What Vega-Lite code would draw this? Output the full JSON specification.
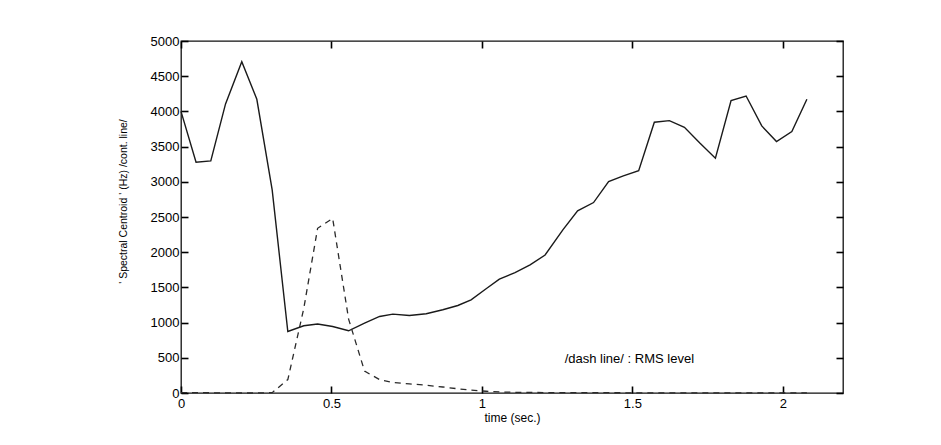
{
  "$schema": "https://vega.github.io/schema/vega-lite/v6.json",
  "autosize": "none",
  "width": 662,
  "height": 352,
  "padding": {"left": 181, "top": 41, "right": 98, "bottom": 52},
  "background": "white",
  "config": {
    "view": {"stroke": "#111", "strokeWidth": 1.3},
    "axis": {
      "labelFont": "Liberation Sans",
      "labelFontSize": 13,
      "labelColor": "#000",
      "domain": false,
      "grid": false,
      "titleFont": "Liberation Sans",
      "titleFontWeight": "normal",
      "titleColor": "#000"
    }
  },
  "datasets": {
    "centroid": [
      {"t": 0.0, "v": 4000},
      {"t": 0.05, "v": 3278},
      {"t": 0.099, "v": 3297},
      {"t": 0.148, "v": 4106},
      {"t": 0.202, "v": 4706},
      {"t": 0.252, "v": 4172},
      {"t": 0.303, "v": 2885},
      {"t": 0.355, "v": 874},
      {"t": 0.408, "v": 955},
      {"t": 0.454, "v": 979},
      {"t": 0.504, "v": 945},
      {"t": 0.557, "v": 884},
      {"t": 0.61, "v": 993},
      {"t": 0.66, "v": 1087},
      {"t": 0.704, "v": 1121},
      {"t": 0.759, "v": 1101},
      {"t": 0.815, "v": 1125},
      {"t": 0.87, "v": 1182},
      {"t": 0.92, "v": 1243},
      {"t": 0.964, "v": 1324},
      {"t": 1.014, "v": 1480},
      {"t": 1.058, "v": 1618},
      {"t": 1.11, "v": 1710},
      {"t": 1.16, "v": 1820},
      {"t": 1.21, "v": 1960},
      {"t": 1.269, "v": 2318},
      {"t": 1.318, "v": 2587},
      {"t": 1.371, "v": 2705},
      {"t": 1.421, "v": 3003},
      {"t": 1.47, "v": 3084},
      {"t": 1.521, "v": 3159},
      {"t": 1.573, "v": 3846},
      {"t": 1.623, "v": 3869},
      {"t": 1.673, "v": 3775},
      {"t": 1.725, "v": 3548},
      {"t": 1.776, "v": 3335},
      {"t": 1.828, "v": 4153},
      {"t": 1.878, "v": 4219},
      {"t": 1.93, "v": 3794},
      {"t": 1.979, "v": 3571},
      {"t": 2.03, "v": 3713},
      {"t": 2.08, "v": 4173}
    ],
    "rms": [
      {"t": 0.0, "v": 5},
      {"t": 0.05, "v": 5},
      {"t": 0.099, "v": 3},
      {"t": 0.148, "v": 2},
      {"t": 0.202, "v": 0},
      {"t": 0.252, "v": 0},
      {"t": 0.303, "v": 5},
      {"t": 0.355, "v": 190},
      {"t": 0.408, "v": 1200},
      {"t": 0.454, "v": 2340},
      {"t": 0.504, "v": 2480},
      {"t": 0.557, "v": 1050},
      {"t": 0.61, "v": 310},
      {"t": 0.66, "v": 190},
      {"t": 0.704, "v": 150},
      {"t": 0.759, "v": 130},
      {"t": 0.815, "v": 110},
      {"t": 0.87, "v": 85},
      {"t": 0.92, "v": 60},
      {"t": 0.964, "v": 40},
      {"t": 1.014, "v": 25},
      {"t": 1.058, "v": 15},
      {"t": 1.11, "v": 10},
      {"t": 1.16, "v": 8},
      {"t": 1.21, "v": 6},
      {"t": 1.269, "v": 5},
      {"t": 1.318, "v": 5},
      {"t": 1.371, "v": 4},
      {"t": 1.421, "v": 4},
      {"t": 1.47, "v": 3},
      {"t": 1.521, "v": 3},
      {"t": 1.573, "v": 3},
      {"t": 1.623, "v": 2},
      {"t": 1.673, "v": 2},
      {"t": 1.725, "v": 2},
      {"t": 1.776, "v": 2},
      {"t": 1.828, "v": 1},
      {"t": 1.878, "v": 1},
      {"t": 1.93, "v": 1},
      {"t": 1.979, "v": 1},
      {"t": 2.03, "v": 1},
      {"t": 2.08, "v": 1}
    ],
    "note": [
      {"label": "/dash line/ : RMS level", "t": 1.49, "v": 490}
    ]
  },
  "layer": [
    {
      "data": {"name": "centroid"},
      "mark": {"type": "line", "color": "#1a1a1a", "strokeWidth": 1.4},
      "encoding": {
        "x": {
          "field": "t", "type": "quantitative",
          "scale": {"domain": [0, 2.2], "nice": false},
          "axis": {
            "values": [0, 0.5, 1, 1.5, 2],
            "ticks": true,
            "tickSize": 7,
            "tickColor": "#000",
            "tickWidth": 1.6,
            "offset": -7,
            "title": "time (sec.)",
            "titleFontSize": 12,
            "titlePadding": 2,
            "labelPadding": 4,
            "format": "~g",
            "labelFlush": false
          }
        },
        "y": {
          "field": "v", "type": "quantitative",
          "scale": {"domain": [0, 5000], "nice": false},
          "axis": {
            "values": [0, 500, 1000, 1500, 2000, 2500, 3000, 3500, 4000, 4500, 5000],
            "ticks": true,
            "tickSize": 7,
            "tickColor": "#000",
            "tickWidth": 1.6,
            "offset": -7,
            "title": "' Spectral Centroid ' (Hz) /cont. line/",
            "titleFontSize": 10.5,
            "titlePadding": 22,
            "titleY": 160,
            "labelPadding": 2,
            "format": "d",
            "labelFlush": false
          }
        }
      }
    },
    {
      "data": {"name": "rms"},
      "mark": {"type": "line", "color": "#2a2a2a", "strokeWidth": 1.3, "strokeDash": [6, 5]},
      "encoding": {
        "x": {
          "field": "t", "type": "quantitative",
          "axis": {"orient": "top", "values": [0, 0.5, 1, 1.5, 2], "ticks": true, "tickSize": 7, "tickColor": "#000", "tickWidth": 1.6, "offset": -7, "labels": false, "title": null}
        },
        "y": {
          "field": "v", "type": "quantitative",
          "axis": {"orient": "right", "values": [0, 500, 1000, 1500, 2000, 2500, 3000, 3500, 4000, 4500, 5000], "ticks": true, "tickSize": 7, "tickColor": "#000", "tickWidth": 1.6, "offset": -7, "labels": false, "title": null}
        }
      }
    },
    {
      "data": {"name": "note"},
      "mark": {"type": "text", "font": "Liberation Sans", "fontSize": 13, "color": "#000", "align": "center", "baseline": "middle"},
      "encoding": {
        "x": {"field": "t", "type": "quantitative", "axis": null},
        "y": {"field": "v", "type": "quantitative", "axis": null},
        "text": {"field": "label"}
      }
    }
  ],
  "resolve": {"axis": {"x": "independent", "y": "independent"}}
}
